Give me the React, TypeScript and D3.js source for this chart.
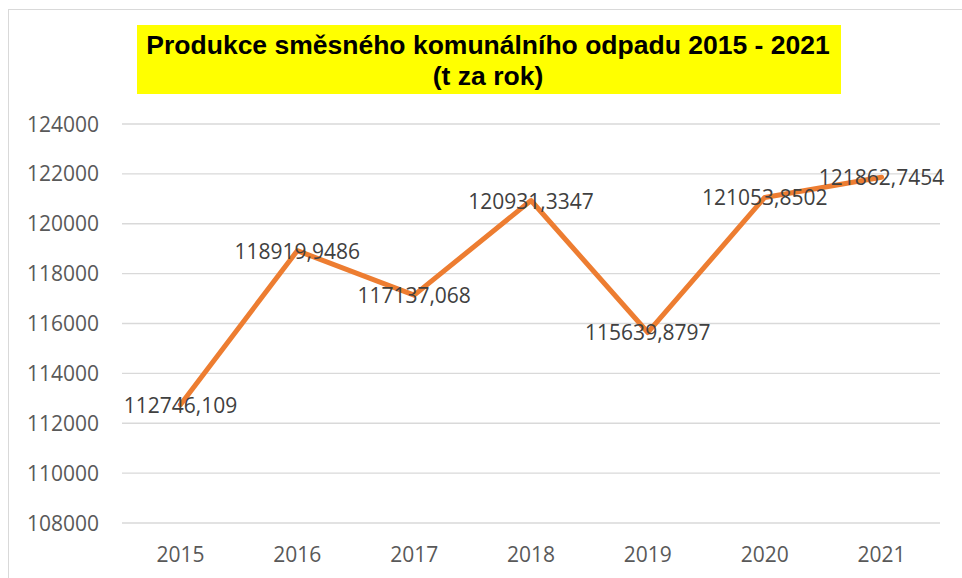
import React, { useEffect, useRef } from "react";
import * as d3 from "d3";

const years = ["2015", "2016", "2017", "2018", "2019", "2020", "2021"];
const values = [112746.109, 118919.9486, 117137.068, 120931.3347, 115639.8797, 121053.8502, 121862.7454];
const labels = ["112746,109", "118919,9486", "117137,068", "120931,3347", "115639,8797", "121053,8502", "121862,7454"];
const yTicks = [108000, 110000, 112000, 114000, 116000, 118000, 120000, 122000, 124000];
const titleLines = ["Produkce směsného komunálního odpadu 2015 - 2021", "(t za rok)"];

const W = 962, H = 578;

export default function App() {
  const ref = useRef<SVGSVGElement>(null);

  useEffect(() => {
    const svg = d3.select(ref.current);
    svg.selectAll("*").remove();

    // chart frame
    svg.append("rect").attr("x", 8.5).attr("y", 9.5).attr("width", W).attr("height", H)
      .attr("fill", "#fff").attr("stroke", "#d9d9d9").attr("stroke-width", 1);

    // title box
    svg.append("rect").attr("x", 137).attr("y", 25).attr("width", 704).attr("height", 69).attr("fill", "#ffff00");
    svg.append("g").selectAll("text").data(titleLines).join("text")
      .attr("x", 488).attr("y", (d, i) => 54 + i * 31)
      .attr("text-anchor", "middle")
      .style("font-family", "'Liberation Sans', Arial, sans-serif")
      .style("font-weight", "bold").style("font-size", "26.5px").attr("fill", "#000")
      .text(d => d);

    const x = d3.scaleBand().domain(years).range([122, 940]);
    const y = d3.scaleLinear().domain([108000, 124000]).range([523, 124]);

    // grid lines
    svg.append("g").selectAll("line").data(yTicks).join("line")
      .attr("x1", 122).attr("x2", 940)
      .attr("y1", d => y(d)).attr("y2", d => y(d))
      .attr("stroke", "#d9d9d9").attr("stroke-width", 1.3);

    const font = "'Open Sans', 'Liberation Sans', sans-serif";

    // y axis labels
    svg.append("g").selectAll("text").data(yTicks).join("text")
      .attr("x", 99).attr("y", d => y(d) + 7.5)
      .attr("text-anchor", "end")
      .style("font-family", font).style("font-size", "21px").attr("fill", "#595959")
      .text(d => String(d));

    // x axis labels
    svg.append("g").selectAll("text").data(years).join("text")
      .attr("x", d => (x(d) as number) + x.bandwidth() / 2).attr("y", 562)
      .attr("text-anchor", "middle")
      .style("font-family", font).style("font-size", "21px").attr("fill", "#595959")
      .text(d => d);

    const pts = years.map((yr, i) => [(x(yr) as number) + x.bandwidth() / 2, y(values[i])] as [number, number]);

    svg.append("path").datum(pts)
      .attr("d", d3.line())
      .attr("fill", "none").attr("stroke", "#ed7d31").attr("stroke-width", 5)
      .attr("stroke-linejoin", "round").attr("stroke-linecap", "round");

    // data labels
    svg.append("g").selectAll("text").data(pts).join("text")
      .attr("x", d => d[0]).attr("y", d => d[1] + 8)
      .attr("text-anchor", "middle")
      .style("font-family", font).style("font-size", "21px").attr("fill", "#404040")
      .text((d, i) => labels[i]);
  }, []);

  return (
    <div style={{ position: "fixed", left: 0, top: 0 }}>
      <svg ref={ref} width={W} height={H} style={{ display: "block" }} />
    </div>
  );
}
